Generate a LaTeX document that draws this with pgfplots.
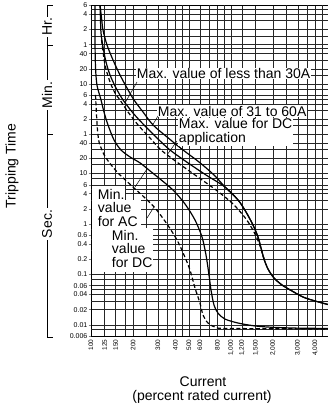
\documentclass[border=0pt]{standalone}
\usepackage{fontspec}
\setmainfont{Liberation Sans}
\usepackage{pgfplots}
\pgfplotsset{compat=1.18}
\newcommand{\lbl}{\fontsize{14bp}{13.5bp}\selectfont}
\begin{document}
\begin{tikzpicture}[x=1bp,y=1bp]
\begin{axis}[
  at={(0,0)}, anchor=south west,
  scale only axis, width=239bp, height=330.5bp,
  xmode=log, ymode=log,
  xmin=100, xmax=5095, ymin=0.006, ymax=21600,
  axis line style={line width=0.7bp},
  xtick={100,125,150,200,300,400,500,600,800,1000,1200,1500,2000,3000,4000},
  xticklabels={100,125,150,200,300,400,500,600,800,{1,000},{1,200},{1,500},{2,000},{3,000},{4,000}},
  ytick={0.006,0.01,0.02,0.04,0.06,0.1,0.2,0.4,0.6,1,2,4,6,10,20,40,60,120,240,360,600,1200,2400,3600,7200,14400,21600},
  yticklabels={0.006,0.01,0.02,0.04,0.06,0.1,0.2,0.4,0.6,1,2,4,6,10,20,40,1,2,4,6,10,20,40,1,2,4,6},
  extra x ticks={175,250,350,450,700,900,2500,3500,4500},
  extra x tick labels={},
  extra y ticks={18000,10800,5400,3000,1800,900,480,300,180,90,30,15,8,5,3,0.8,0.5,0.3,0.08,0.05,0.03,0.008},
  extra y tick labels={},
  extra tick style={grid=major, major tick length=0pt},
  grid=major,
  major grid style={line width=0.5bp, black!85},
  tick align=outside,
  major tick length=2.5bp,
  xtick style={draw=none},
  ytick style={line width=0.5bp},
  xticklabel style={rotate=90, anchor=east, font=\fontsize{6.5bp}{7bp}\selectfont, inner sep=1bp},
  yticklabel style={font=\fontsize{7bp}{8bp}\selectfont, inner sep=1bp},
]
% Min. value for AC
\addplot[black, line width=1.2bp, smooth, tension=0.5] coordinates {
(106.8,22170) (106.8,4480) (107.7,1304) (110.3,573) (117.9,289) (123.8,167) (132.3,92.2) (146.0,46.5) (163.8,29.4) (189.9,21.4) (224.0,16.3) (263.9,11.3) (311.2,7.82) (385.0,4.73) (469.1,2.50) (553.1,1.20) (620.6,0.552) (662.9,0.243) (696.4,0.0973) (719.7,0.0491) (756.2,0.0247) (807,0.0171) (906,0.0130) (1160,0.01063) (1611,0.00927) (2640,0.00866) (5095,0.00846)};
% Min. value for DC
\addplot[black, line width=1.2bp, dash pattern=on 4bp off 2.5bp, smooth, tension=0.5] coordinates {
(107.7,363) (109.5,145.6) (111.3,73.3) (114.1,42.4) (119.8,29.4) (128.0,20.4) (153.4,10.8) (199.5,5.42) (243.2,3.28) (286.6,2.08) (349.0,1.00) (411.5,0.482) (461.6,0.243) (509.3,0.1225) (553.1,0.0537) (600.4,0.0271) (631,0.0157) (685,0.01087) (781.5,0.00885) (983.7,0.00846) (5095,0.00827)};
% Max. value of less than 30A
\addplot[black, line width=1.2bp, smooth, tension=0.5] coordinates {
(116.0,22170) (116.9,11170) (117.9,6166) (121.8,3253) (128.0,1640) (136.7,905) (150.9,500) (169.3,289) (199.5,159.5) (239.1,92.2) (296.1,50.9) (366.6,29.4) (492.8,16.3) (662.9,9.38) (906,5.42) (1122,3.00) (1280,1.73) (1436,0.955) (1559,0.552) (1638,0.334) (1721,0.202) (1838,0.128) (2028,0.0849) (2314,0.0617) (2727,0.0469) (3268,0.0356) (3981,0.0297) (5095,0.0247)};
% Max. value of 31 to 60A
\addplot[black, line width=1.2bp, smooth, tension=0.5] coordinates {
(116.0,22170) (118.9,12240) (121.8,7076) (130.1,3565) (143.6,1796) (161.1,905) (180.7,500) (202.8,289) (235.2,167) (277.3,92.2) (349.0,53.3) (454.1,29.4) (590.7,17.0) (756.2,9.38) (906,5.42) (1122,3.00) (1280,1.73) (1436,0.955) (1559,0.552) (1638,0.334) (1721,0.202) (1838,0.128) (2028,0.0849) (2314,0.0617) (2727,0.0469) (3268,0.0356) (3981,0.0297) (5095,0.0247)};
% Max. value for DC application
\addplot[black, line width=1.2bp, dash pattern=on 4bp off 2.5bp, smooth, tension=0.5] coordinates {
(118.9,4480) (125.9,1430) (136.7,657.6) (148.4,397) (161.1,289) (183.8,167) (216.7,92.2) (263.9,50.9) (316.2,29.4) (418.0,16.3) (553.1,9.38) (781.5,4.73) (1033,2.50) (1280,1.26) (1460,0.693) (1585,0.420) (1665,0.279) (1721,0.202)};
\end{axis}
% masks behind the Min. labels
\fill[white] (0.7,136) rectangle (34,150);
\fill[white] (0.7,108) rectangle (50,136.2);
\fill[white] (0.7,64) rectangle (62,108.2);
% in-plot labels
\node[anchor=west, fill=white, inner sep=0.8bp, font=\lbl] at (45,262.5) {Max. value of less than 30A};
\node[anchor=west, fill=white, inner sep=0.8bp, font=\lbl] at (66,225) {Max. value of 31 to 60A};
\node[anchor=west, fill=white, inner sep=0.8bp, font=\lbl, align=left] at (87,204) {Max. value for DC\\application};
\node[anchor=west, inner sep=0.8bp, font=\lbl, align=left] at (6,128.5) {Min.\\value\\for AC};
\node[anchor=west, inner sep=0.8bp, font=\lbl, align=left] at (20,87.5) {Min.\\value\\for DC};
% leaders
\draw[line width=0.5bp] (46,254) -- (34,233);
\draw[line width=0.5bp] (67,220) -- (61,210);
\draw[line width=0.5bp] (86,195) -- (76,181);
\draw[line width=0.5bp] (44,149) -- (56,167);
\draw[line width=0.5bp] (56,118) -- (63,129);
% left side
\node[rotate=90, font=\lbl] at (-79,170) {Tripping Time};
\draw[line width=0.6bp] (-38,330.4) -- (-44,330.4) -- (-44,-1) -- (-38,-1);
\draw[line width=0.6bp] (-44,291.2) -- (-38,291.2);
\draw[line width=0.6bp] (-44,201.6) -- (-38,201.6);
\node[rotate=90, fill=white, inner sep=1.5bp, font=\lbl] at (-44,309) {Hr.};
\node[rotate=90, fill=white, inner sep=1.5bp, font=\lbl] at (-44,241) {Min.};
\node[rotate=90, fill=white, inner sep=1.5bp, font=\lbl] at (-44,112) {Sec.};
% x label
\node[font=\lbl] at (112,-46) {Current};
\node[font=\lbl] at (111,-61) {(percent rated current)};
\pgfresetboundingbox
\useasboundingbox (-91,-78) rectangle (237,336);
\end{tikzpicture}
\end{document}
